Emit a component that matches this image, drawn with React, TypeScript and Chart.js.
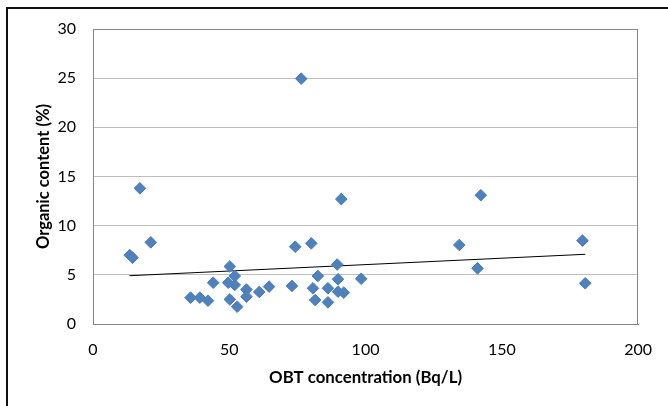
import React, { useEffect, useRef } from "react";
import { Chart, registerables } from "chart.js";

Chart.register(...registerables);

const obtConcentration: number[] = [
  13.5, 14.5, 17.2, 21.2, 35.8, 39.2, 42.2, 44.1, 49.6, 50.2, 52.0, 52.0, 50.2, 52.9,
  56.3, 56.3, 61.0, 64.6, 73.0, 74.2, 76.4, 80.1, 80.7, 81.5, 82.5, 86.2, 86.2, 89.6,
  89.9, 89.9, 92.0, 91.1, 98.4, 134.4, 141.1, 142.3, 179.6, 180.6,
];
const organicContent: number[] = [
  7.0, 6.75, 13.8, 8.3, 2.68, 2.68, 2.37, 4.2, 4.2, 5.85, 4.88, 3.97, 2.5, 1.76,
  3.5, 2.78, 3.26, 3.8, 3.87, 7.86, 24.95, 8.2, 3.63, 2.44, 4.88, 3.63, 2.2, 6.05,
  4.55, 3.29, 3.19, 12.7, 4.6, 8.04, 5.66, 13.1, 8.48, 4.14,
];
const trendX: number[] = [13.4, 180.6];
const trendY: number[] = [4.91, 7.09];

const xTicks: number[] = [0, 50, 100, 150, 200];
const yTicks: number[] = [0, 5, 10, 15, 20, 25, 30];

const FONT = "Lato, 'Open Sans', sans-serif";

const framePlugin = {
  id: "frame",
  beforeDraw(chart: any) {
    const ctx = chart.ctx;
    ctx.save();
    ctx.fillStyle = "#ffffff";
    ctx.fillRect(0, 0, chart.width, chart.height);
    ctx.strokeStyle = "#111111";
    ctx.lineWidth = 2;
    ctx.beginPath();
    ctx.moveTo(7, chart.height);
    ctx.lineTo(7, 8);
    ctx.lineTo(chart.width, 8);
    ctx.stroke();
    ctx.restore();
  },
  beforeDatasetsDraw(chart: any) {
    const { left, top, right, bottom } = chart.chartArea;
    const ctx = chart.ctx;
    ctx.save();
    ctx.strokeStyle = "#868686";
    ctx.lineWidth = 1;
    ctx.strokeRect(Math.round(left) + 0.5, Math.round(top) + 0.5, Math.round(right - left) - 1, Math.round(bottom - top));
    ctx.restore();
  },
};

export default function App() {
  const ref = useRef<HTMLCanvasElement | null>(null);

  useEffect(() => {
    document.body.style.margin = "0";
    const canvas = ref.current;
    if (!canvas) return;
    const points = obtConcentration.map((x, i) => ({ x, y: organicContent[i] }));
    const trend = trendX.map((x, i) => ({ x, y: trendY[i] }));
    const chart = new Chart(canvas, {
      type: "scatter",
      data: {
        datasets: [
          {
            label: "Organic content",
            data: points,
            pointStyle: "rectRot",
            pointRadius: 5.8,
            pointBackgroundColor: "#4F81BD",
            pointBorderColor: "#4A7EBB",
            pointBorderWidth: 1,
            showLine: false,
            order: 1,
          },
          {
            label: "Trend",
            data: trend,
            showLine: true,
            borderColor: "#000000",
            borderWidth: 1,
            pointRadius: 0,
            order: 2,
          },
        ],
      },
      plugins: [framePlugin],
      options: {
        responsive: false,
        animation: false,
        layout: { padding: { left: 0, top: 29, right: 29, bottom: 0 } },
        plugins: {
          legend: { display: false },
          tooltip: { enabled: false },
        },
        scales: {
          x: {
            type: "linear",
            min: 0,
            max: 200,
            afterBuildTicks: (axis: any) => {
              axis.ticks = xTicks.map((v) => ({ value: v }));
            },
            afterFit: (axis: any) => {
              axis.height = 82;
            },
            grid: { display: false, drawTicks: false },
            border: { display: true, color: "#868686", width: 1 },
            ticks: {
              color: "#000000",
              padding: 16,
              font: { family: FONT, size: 16 },
              maxRotation: 0,
            },
            title: {
              display: true,
              text: "OBT concentration (Bq/L)",
              color: "#000000",
              font: { family: FONT, size: 16.8, weight: "bold" },
              padding: { top: 0, bottom: 18.5 },
            },
          },
          y: {
            type: "linear",
            min: 0,
            max: 30,
            afterBuildTicks: (axis: any) => {
              axis.ticks = yTicks.map((v) => ({ value: v }));
            },
            afterFit: (axis: any) => {
              axis.width = 93;
            },
            grid: { display: true, color: "#BFBFBF", lineWidth: 1, drawTicks: false },
            border: { display: true, color: "#868686", width: 1 },
            ticks: {
              color: "#000000",
              padding: 17,
              font: { family: FONT, size: 16 },
            },
            title: {
              display: true,
              text: "Organic content (%)",
              color: "#000000",
              font: { family: FONT, size: 16.5, weight: "bold" },
              padding: { top: 34, bottom: 0 },
            },
          },
        },
      },
    });
    return () => chart.destroy();
  }, []);

  return (
    <div style={{ width: 668, height: 406 }}>
      <canvas ref={ref} width={668} height={406} style={{ display: "block" }} />
    </div>
  );
}
